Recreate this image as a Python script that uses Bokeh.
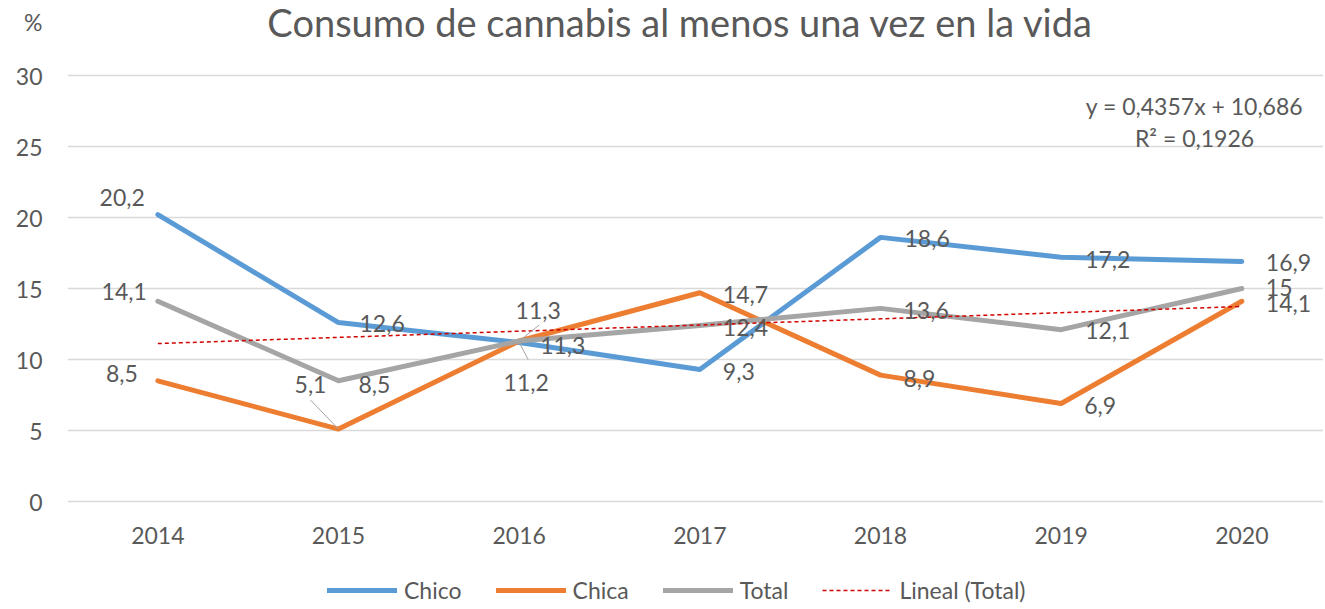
import numpy as np
from bokeh.plotting import figure
from bokeh.models import (ColumnDataSource, Range1d, FixedTicker, Label, LabelSet,
                          Legend, LegendItem)
from bokeh.embed import file_html
from bokeh.resources import INLINE
from bokeh.core.properties import value

# ---------------- data ----------------
years = [2014, 2015, 2016, 2017, 2018, 2019, 2020]
chico = [20.2, 12.6, 11.2, 9.3, 18.6, 17.2, 16.9]
chica = [8.5, 5.1, 11.3, 14.7, 8.9, 6.9, 14.1]
total = [14.1, 8.5, 11.3, 12.4, 13.6, 12.1, 15.0]
y_ticks = [0, 5, 10, 15, 20, 25, 30]
series_names = ["Chico", "Chica", "Total"]
trend_name = "Lineal (Total)"
title_text = "Consumo de cannabis al menos una vez en la vida"
unit_text = "%"

# ---------------- style / layout ----------------
colors = {"Chico": "#5B9BD5", "Chica": "#ED7D31", "Total": "#A5A5A5"}
TEXT = "#595959"
FONT = "Lato"
FS = "23px"
LEFT = 67                 # frame left edge (px)
ZERO_PX = 501             # page y of value 0
FRAME_W, FRAME_H = 1256, 609
X0, X1 = 2013.5, 2020.452
PX_X = FRAME_W / (X1 - X0)
PX_Y = 426 / 30.0         # 0..30 spans 426 px
Y0, Y1 = -(FRAME_H - ZERO_PX) / PX_Y, ZERO_PX / PX_Y
UNIT_POS = 33.8           # y position of the "%" unit marker (above the 30 line)


def sx(px):   # page px -> data x
    return X0 + (px - LEFT) / PX_X


def sy(py):   # page px -> data y
    return (ZERO_PX - py) / PX_Y


# label placement per point: (align, dx px, dy px (down +))
placement = {
    "Chico": [("right", -13, -17), ("left", 21, 1), ("center", 7, 40), ("left", 23, 2),
              ("left", 24, 1), ("left", 24, 2), ("left", 24, 1)],
    "Chica": [("right", -20, -7), ("center", -28, -45), ("center", 19, -31), ("left", 23, 2),
              ("left", 23, 3), ("left", 23, 2), ("left", 24, 2)],
    "Total": [("right", -11, -10), ("left", 20, 4), ("left", 21, 4), ("left", 23, 2),
              ("left", 23, 2), ("left", 24, 1), ("left", 24, -1)],
}
# leader lines: (series, index, dx px, dy px)
leaders = [("Chica", 1, -28, -29), ("Chica", 2, 20, -16), ("Chico", 2, 9, 17)]

values = {"Chico": chico, "Chica": chica, "Total": total}

# ---------------- trend ----------------
idx = np.arange(1, len(years) + 1)
slope, intercept = np.polyfit(idx, total, 1)
fitted = slope * idx + intercept
tot = np.array(total)
r2 = 1 - np.sum((tot - fitted) ** 2) / np.sum((tot - tot.mean()) ** 2)
eq1 = f"y = {slope:.4f}x + {intercept:.3f}".replace(".", ",")
eq2 = f"R² = {r2:.4f}".replace(".", ",")

p = figure(frame_width=FRAME_W, frame_height=FRAME_H,
           x_range=Range1d(X0, X1), y_range=Range1d(Y0, Y1),
           output_backend="svg", toolbar_location=None, x_axis_location=None,
           min_border_left=LEFT, min_border_right=0, min_border_top=0, min_border_bottom=0)
p.outline_line_color = None
p.background_fill_color = "white"
p.border_fill_color = "white"
p.xgrid.grid_line_color = None
p.ygrid.ticker = FixedTicker(ticks=y_ticks)
p.ygrid.grid_line_color = "#D9D9D9"
p.ygrid.grid_line_width = 1.5
p.yaxis.ticker = FixedTicker(ticks=y_ticks + [UNIT_POS])
p.yaxis.major_label_overrides = {UNIT_POS: unit_text}
ax = p.yaxis[0]
ax.axis_line_color = None
ax.major_tick_line_color = None
ax.minor_tick_line_color = None
ax.major_tick_out = 0
ax.major_tick_in = 0
ax.minor_tick_out = 0
ax.major_label_text_font = FONT
ax.major_label_text_font_size = FS
ax.major_label_text_color = TEXT
ax.major_label_standoff = 25

renderers = {}
for name in series_names:
    src = ColumnDataSource(dict(x=years, y=values[name]))
    renderers[name] = p.line("x", "y", source=src, line_color=colors[name], line_width=5,
                             line_cap="round", line_join="round")

trend_r = p.line(years, list(fitted), line_color="#D00000", line_width=1.5, line_dash="4 3")

# leader lines
lx0, ly0, lx1, ly1 = [], [], [], []
for name, i, dx, dy in leaders:
    x, y = years[i], values[name][i]
    lx0.append(x); ly0.append(y)
    lx1.append(x + dx / PX_X); ly1.append(y - dy / PX_Y)
p.segment(lx0, ly0, lx1, ly1, line_color="#A5A5A5", line_width=1)

# category (year) labels under the plot
p.add_layout(LabelSet(x="x", y="y", text="t",
                      source=ColumnDataSource(dict(x=years, y=[sy(535)] * len(years),
                                                   t=[str(yr) for yr in years])),
                      text_align="center", text_baseline="middle",
                      text_font=value(FONT), text_font_size=FS, text_color=TEXT))

# data labels
for align in ("left", "right", "center"):
    d = dict(x=[], y=[], t=[], xo=[], yo=[])
    for name in series_names:
        for i, (a, dx, dy) in enumerate(placement[name]):
            if a != align:
                continue
            v = values[name][i]
            d["x"].append(years[i]); d["y"].append(v)
            d["t"].append(f"{v:g}".replace(".", ","))
            d["xo"].append(dx); d["yo"].append(-dy)
    ls = LabelSet(x="x", y="y", text="t", x_offset="xo", y_offset="yo",
                  source=ColumnDataSource(d), text_align=align, text_baseline="middle",
                  text_font=value(FONT), text_font_size=FS, text_color=TEXT)
    p.add_layout(ls)

# title and trend equation
p.add_layout(Label(x=sx(680), y=sy(21), text=title_text,
                   text_align="center", text_baseline="middle", text_font=FONT,
                   text_font_size="38px", text_color=TEXT))
for t, ypx in ((eq1, 105), (eq2, 137)):
    p.add_layout(Label(x=sx(1194), y=sy(ypx), text=t,
                       text_align="center", text_baseline="middle", text_font=FONT,
                       text_font_size=FS, text_color=TEXT))

legend = Legend(items=[LegendItem(label=n, renderers=[renderers[n]]) for n in series_names]
                + [LegendItem(label=trend_name, renderers=[trend_r])],
                orientation="horizontal", location=(260, 5),
                glyph_width=70, glyph_height=20, label_standoff=7, spacing=34,
                padding=0, margin=0, border_line_color=None, background_fill_alpha=0,
                label_text_font=FONT, label_text_font_size=FS, label_text_color=TEXT)
p.add_layout(legend, "center")

open("out.html", "w").write(file_html(p, INLINE))
